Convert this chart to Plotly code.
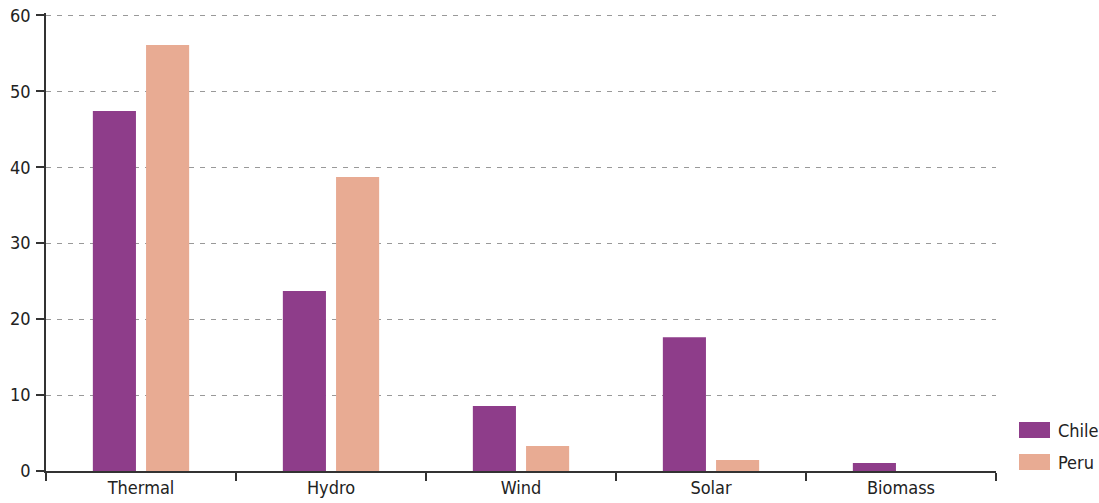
import plotly.graph_objects as go

categories = ["Thermal", "Hydro", "Wind", "Solar", "Biomass"]
chile = [47.4, 23.7, 8.55, 17.6, 1.05]
peru = [56.1, 38.7, 3.3, 1.45, 0]
series_names = ["Chile", "Peru"]
series_colors = ["#8E3D8A", "#E8AB93"]
y_ticks = [0, 10, 20, 30, 40, 50, 60]

FONT = "DejaVu Sans Condensed, Roboto, sans-serif"

L, T, W_PLOT, H_PLOT = 46, 13, 950, 458
BOTTOM = T + H_PLOT

fig = go.Figure()
for name, vals, col in zip(series_names, [chile, peru], series_colors):
    fig.add_trace(go.Bar(name=name, x=categories, y=vals,
                         marker=dict(color=col, line=dict(width=0)),
                         showlegend=False))

# custom legend with wide swatches
shapes = []
annotations = []
for i, (name, col) in enumerate(zip(series_names, series_colors)):
    yc = 430 + i * 32
    shapes.append(dict(type="rect", xref="paper", yref="paper",
                       x0=(1019 - L) / W_PLOT, x1=(1050 - L) / W_PLOT,
                       y0=(BOTTOM - (yc + 8)) / H_PLOT, y1=(BOTTOM - (yc - 8)) / H_PLOT,
                       fillcolor=col, line=dict(width=0)))
    annotations.append(dict(xref="paper", yref="paper",
                            x=(1056 - L) / W_PLOT, y=(BOTTOM - yc) / H_PLOT,
                            xanchor="left", yanchor="middle", showarrow=False,
                            text=name, font=dict(size=18, color="#222")))

fig.update_layout(
    width=1099, height=503,
    margin=dict(l=L, r=1099 - L - W_PLOT, t=T, b=503 - BOTTOM),
    paper_bgcolor="white", plot_bgcolor="white",
    barmode="group", bargap=0.44, bargroupgap=0.19,
    font=dict(family=FONT, size=18, color="#222"),
    showlegend=False,
    shapes=shapes, annotations=annotations,
)
fig.update_xaxes(
    automargin=False,
    showline=True, linecolor="#333", linewidth=1.5,
    ticks="outside", ticklen=8, tickcolor="#333", tickwidth=1.5,
    tickson="boundaries", showgrid=False,
    tickfont=dict(size=18, color="#222"),
)
fig.update_yaxes(
    automargin=False, ticklabeloverflow="allow",
    range=[0, 60.3], tickvals=y_ticks,
    showline=True, linecolor="#333", linewidth=1.5,
    ticks="outside", ticklen=8, tickcolor="#333", tickwidth=1.5,
    ticklabelstandoff=2,
    showgrid=True, gridcolor="#999", griddash="5px,6px", gridwidth=1,
    zeroline=False,
    tickfont=dict(size=18, color="#222"),
)

fig.write_html("out.html", config={"displayModeBar": False},
               post_script="document.body.style.margin='0';")
